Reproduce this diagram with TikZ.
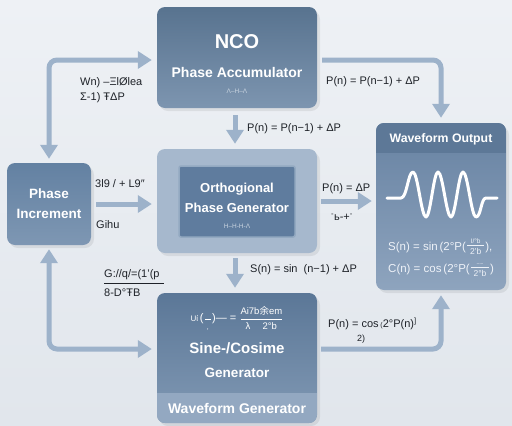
\documentclass[tikz,border=0pt]{standalone}
\usepackage{fontspec}
\usepackage{amsmath}
\setmainfont{Liberation Sans}
\newfontfamily\cjkfont{Noto Sans CJK SC}
\usetikzlibrary{arrows.meta,calc}
\definecolor{bgtop}{HTML}{EEF1F5}
\definecolor{bgbot}{HTML}{E1E6EC}
\definecolor{arrowc}{HTML}{9DB2CA}
\definecolor{ncotop}{HTML}{58738F}
\definecolor{ncobot}{HTML}{7D95B0}
\definecolor{ortout}{HTML}{A6B8CD}
\definecolor{ortin}{HTML}{5F7C9E}
\definecolor{ortbrd}{HTML}{93A9C1}
\definecolor{sintop}{HTML}{5B7797}
\definecolor{sinbot}{HTML}{8199B4}
\definecolor{bandc}{HTML}{93A8C1}
\definecolor{pintop}{HTML}{6381A2}
\definecolor{pinbot}{HTML}{7E97B3}
\definecolor{wotop}{HTML}{6782A2}
\definecolor{wobot}{HTML}{8EA4BE}
\definecolor{wohead}{HTML}{5D7897}
\definecolor{txtc}{HTML}{1E2228}
\definecolor{faint}{HTML}{C9D4E0}
\definecolor{wftext}{HTML}{EEF2F8}
\newcommand{\sz}[1]{\fontsize{#1}{#1}\selectfont}
\begin{document}
\begin{tikzpicture}[x=1pt,y=-1pt,
  boxnode/.style={rounded corners=8pt, inner sep=0pt, draw=none},
  wt/.style={text=white, inner sep=0pt, anchor=base},
  tiny7/.style={text=faint, inner sep=0pt, anchor=base, font=\fontsize{6.5}{7}\selectfont},
  lab/.style={text=txtc, inner sep=0pt, anchor=base west, font=\fontsize{11}{13}\selectfont},
  wf/.style={text=wftext, inner sep=0pt, anchor=base west, font=\fontsize{11.5}{13}\selectfont},
  wfnum/.style={text=wftext, inner sep=0pt, anchor=base, font=\fontsize{6.5}{7}\selectfont},
  wfden/.style={text=wftext, inner sep=0pt, anchor=base, font=\fontsize{8.5}{9}\selectfont},
  flow/.style={draw=arrowc, line width=5pt, rounded corners=8pt, -{Triangle[width=17pt,length=14pt]}},
  flowtwo/.style={draw=arrowc, line width=5pt, rounded corners=8pt, {Triangle[width=17pt,length=14pt]}-{Triangle[width=17pt,length=14pt]}},
  shadow/.style={fill=black, opacity=0.07, rounded corners=9pt}
]
\shade[top color=bgtop,bottom color=bgbot] (0,0) rectangle (512,426);
\useasboundingbox (0,0) rectangle (512,426);

% shadows
\fill[shadow] (159,10) rectangle (320,111);
\fill[shadow] (159,152) rectangle (320,256);
\fill[shadow] (159,296) rectangle (320,426);
\fill[shadow] (9,166) rectangle (94,248);
\fill[shadow] (378,126) rectangle (509,293);

% boxes
\node[boxnode, minimum width=160pt, minimum height=101pt, top color=ncotop, bottom color=ncobot] (nco) at (237,57.5) {};
\node[boxnode, minimum width=160pt, minimum height=104pt, fill=ortout] (ortho) at (237,201) {};
\node[rounded corners=2pt, inner sep=0pt, minimum width=116pt, minimum height=71pt, fill=ortin, draw=ortbrd, line width=1.5pt] (orthoin) at (237,201.5) {};
\node[boxnode, minimum width=160pt, minimum height=130pt, top color=sintop, bottom color=sinbot] (sine) at (237,358) {};
\begin{scope}
  \clip[rounded corners=8pt] (157,293) rectangle (317,423);
  \fill[bandc] (157,393) rectangle (317,423);
\end{scope}
\node[boxnode, minimum width=84pt, minimum height=82pt, top color=pintop, bottom color=pinbot] (pinc) at (49,204) {};
\node[boxnode, minimum width=130pt, minimum height=167pt, top color=wotop, bottom color=wobot] (wout) at (441,206.5) {};
\begin{scope}
  \clip[rounded corners=8pt] (376,123) rectangle (506,290);
  \fill[wohead] (376,123) rectangle (506,153);
\end{scope}

% connectors
\draw[flowtwo, shorten <=4pt, shorten >=5pt] (pinc.north) |- ([yshift=-2.5pt]nco.west);
\draw[flow, shorten <=5pt, shorten >=5pt] (pinc.east) -- (ortho.west |- pinc.east);
\draw[flowtwo, shorten <=4pt, shorten >=5pt] (pinc.south) |- ([yshift=9pt]sine.west);
\draw[flow, shorten <=7pt, shorten >=5pt] ([xshift=-2pt]nco.south) -- ([xshift=-2pt]ortho.north);
\draw[flow, shorten <=5pt, shorten >=5pt] ([xshift=-2pt]ortho.south) -- ([xshift=-2pt]sine.north);
\draw[flow, shorten <=5pt, shorten >=5pt] ([yshift=-2.5pt]nco.east) -| (wout.north);
\draw[flow, shorten <=4pt, shorten >=4pt] (ortho.east) -- (wout.west |- ortho.east);
\draw[flow, shorten <=4pt, shorten >=5pt] ([yshift=9pt]sine.east) -| (wout.south);

% NCO texts
\node[wt, font=\bfseries\fontsize{20}{22}\selectfont] (ncot) at (237,48) {NCO};
\node[wt, font=\bfseries\fontsize{14}{16}\selectfont] (ncos) at (237,77) {Phase Accumulator};
\node[tiny7] (ncox) at (237,93.5) {Λ–H–Λ};

% Ortho texts
\node[wt, font=\bfseries\fontsize{13}{15}\selectfont] (ort1) at (237,192.5) {Orthogional};
\node[wt, font=\bfseries\fontsize{13}{15}\selectfont] (ort2) at (237,212.5) {Phase Generator};
\node[tiny7] (ortx) at (237,228.5) {H–H-H-Λ};

% Sine texts
\node[text=white, inner sep=0pt, font=\fontsize{11}{13}\selectfont] (sinf) at (237,318)
  {{\sz{8}Uί}\,($\dfrac{\;\;}{\text{\sz{7},}}$)— = $\dfrac{\text{\sz{9.5}Ai7b{\cjkfont 余}em}}{\text{\sz{9.5}λ\quad\ 2°b}}$};
\node[wt, font=\bfseries\fontsize{15}{17}\selectfont] (sin1) at (237,353) {Sine-/Cosime};
\node[wt, font=\bfseries\fontsize{13.5}{15}\selectfont] (sin2) at (237,377) {Generator};
\node[wt, font=\bfseries\fontsize{14}{16}\selectfont] (sin3) at (237,413) {Waveform Generator};

% Phase increment
\node[wt, font=\bfseries\fontsize{13.5}{15}\selectfont] (pin1) at (49,198) {Phase};
\node[wt, font=\bfseries\fontsize{13.5}{15}\selectfont] (pin2) at (49,218) {Increment};

% Waveform output
\draw[white, line width=3pt, line cap=round, line join=round]
  (387,198) -- (401,198) .. controls (407,198) and (408,172) .. (413,172)
  cos (419.5,194.5) sin (426,217) cos (432,194.5) sin (438,172)
  cos (444.5,194.5) sin (451,217) cos (457,194.5) sin (463,172)
  cos (469.5,194.5) sin (476,217) .. controls (481,217) and (481,198) .. (486,198) -- (497,198);
\node[wt, font=\bfseries\fontsize{12.3}{14}\selectfont] (wot) at (441,142) {Waveform Output};

\node[wf] (wof1) at (388,250) {S(n) = sin\,(2°P(};
\node[wfnum] (wof1n) at ($(wof1.base east)+(9.5,-7)$) {I/°b};
\draw[wftext, line width=0.6pt] ($(wof1.base east)+(1,-4.5)$) -- ($(wof1.base east)+(18,-4.5)$);
\node[wfden] (wof1d) at ($(wof1.base east)+(9.5,4.5)$) {2'b};
\node[wf] (wof1c) at ($(wof1.base east)+(19,0)$) {),};

\node[wf] (wof2) at (388,272) {C(n) = cos\,(2°P(};
\node[wfnum, font=\fontsize{5}{6}\selectfont] (wof2n) at ($(wof2.base east)+(10,-7)$) {–\,–};
\draw[wftext, line width=0.6pt] ($(wof2.base east)+(1,-4.5)$) -- ($(wof2.base east)+(19,-4.5)$);
\node[wfden] (wof2d) at ($(wof2.base east)+(10,4.5)$) {2°b};
\node[wf] (wof2c) at ($(wof2.base east)+(20,0)$) {)};

% labels
\node[lab] (l1) at (247,131) {P(n) = P(n−1) + ΔP};
\node[lab] (l2) at (326,84) {P(n) = P(n−1) + ΔP};
\node[lab] (l3) at (80,85) {Wn) –ΞlØlea};
\node[lab] (l4) at (80,100) {Σ-1) ŦΔP};
\node[lab] (l5) at (95,187) {3l9 / + L9″};
\node[lab] (l6) at (96,228) {Gihu};
\node[lab] (l7) at (104,277) {G://q/=(1'(p};
\draw[txtc, line width=0.8pt] (104,283) -- (164,283);
\node[lab] (l8) at (104,296) {8-D°ŦB};
\node[lab] (l9) at (322,191) {P(n) = ΔP};
\node[lab, anchor=base] (l10) at (342,220) {\textsuperscript{-}ь-+\textsuperscript{-}};
\node[lab] (l11) at (250,272) {S(n) = sin \ (n−1) + ΔP};
\node[lab] (l12) at (328,327) {P(n) = cos\,{\scriptsize(}2°P(n)\textsuperscript{]}};
\node[lab, anchor=base, font=\fontsize{9}{10}\selectfont] (l13) at (361,341) {2)};
\end{tikzpicture}
\end{document}
